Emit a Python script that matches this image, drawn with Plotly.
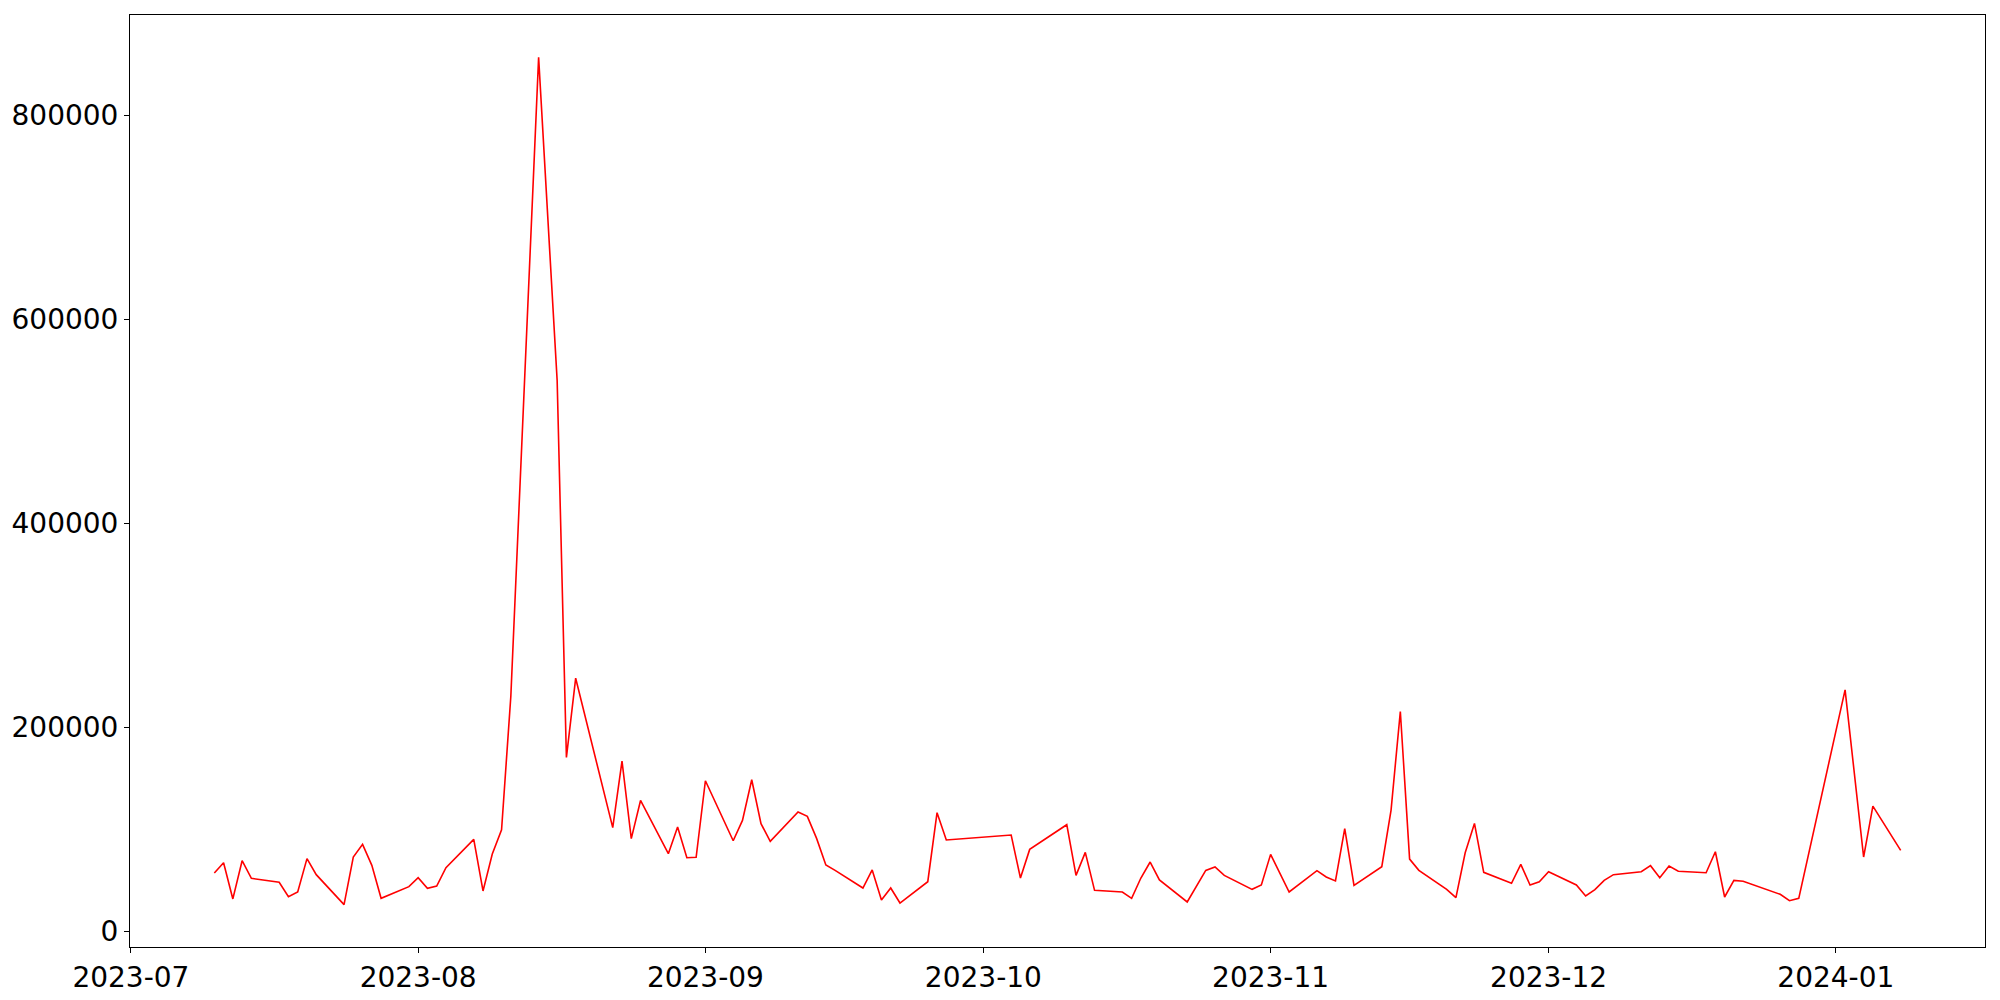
import pandas as pd
import plotly.graph_objects as go

dates = [
    "2023-07-10", "2023-07-11", "2023-07-12", "2023-07-13", "2023-07-14",
    "2023-07-17", "2023-07-18", "2023-07-19", "2023-07-20", "2023-07-21",
    "2023-07-24", "2023-07-25", "2023-07-26", "2023-07-27", "2023-07-28",
    "2023-07-31", "2023-08-01", "2023-08-02", "2023-08-03", "2023-08-04",
    "2023-08-07", "2023-08-08", "2023-08-09", "2023-08-10", "2023-08-11",
    "2023-08-14", "2023-08-16", "2023-08-17", "2023-08-18",
    "2023-08-22", "2023-08-23", "2023-08-24", "2023-08-25",
    "2023-08-28", "2023-08-29", "2023-08-30", "2023-08-31", "2023-09-01",
    "2023-09-04", "2023-09-05", "2023-09-06", "2023-09-07", "2023-09-08",
    "2023-09-11", "2023-09-12", "2023-09-13", "2023-09-14", "2023-09-15",
    "2023-09-18", "2023-09-19", "2023-09-20", "2023-09-21", "2023-09-22",
    "2023-09-25", "2023-09-26", "2023-09-27",
    "2023-10-04", "2023-10-05", "2023-10-06",
    "2023-10-10", "2023-10-11", "2023-10-12", "2023-10-13",
    "2023-10-16", "2023-10-17", "2023-10-18", "2023-10-19", "2023-10-20",
    "2023-10-23", "2023-10-25", "2023-10-26", "2023-10-27",
    "2023-10-30", "2023-10-31", "2023-11-01", "2023-11-03",
    "2023-11-06", "2023-11-07", "2023-11-08", "2023-11-09", "2023-11-10",
    "2023-11-13", "2023-11-14", "2023-11-15", "2023-11-16", "2023-11-17",
    "2023-11-20", "2023-11-21", "2023-11-22", "2023-11-23", "2023-11-24",
    "2023-11-27", "2023-11-28", "2023-11-29", "2023-11-30", "2023-12-01",
    "2023-12-04", "2023-12-05", "2023-12-06", "2023-12-07", "2023-12-08",
    "2023-12-11", "2023-12-12", "2023-12-13", "2023-12-14", "2023-12-15",
    "2023-12-18", "2023-12-19", "2023-12-20", "2023-12-21", "2023-12-22",
    "2023-12-26", "2023-12-27", "2023-12-28",
    "2024-01-02", "2024-01-04", "2024-01-05", "2024-01-08",
]

values = [
    57000, 67000, 31500, 69000, 51700,
    47800, 33700, 38300, 71000, 55300,
    25900, 72600, 85000, 64400, 32100,
    43500, 52300, 41900, 44100, 62100,
    89900, 39300, 75500, 99400, 230000,
    857000, 540000, 170300, 248000,
    101400, 166700, 90600, 128100,
    75900, 102000, 71900, 72300, 147400,
    88600, 108500, 148400, 105300, 88000,
    116700, 112500, 90900, 64800, 59500,
    42200, 59900, 30500, 42200, 27500,
    48400, 116100, 89300,
    94200, 52000, 80100,
    104300, 54600, 77200, 39900,
    38300, 32100, 52000, 67700, 50100,
    28500, 59500, 62800, 54600,
    40900, 45200, 75200, 38300,
    59200, 53000, 49100, 100400, 44800,
    63100, 118700, 215400, 70600, 59500,
    40900, 32700, 76800, 105600, 57600,
    46800, 65400, 45200, 48400, 58200,
    45200, 34400, 40600, 49700, 55300,
    58200, 64100, 52300, 63800, 58600,
    57200, 77800, 33400, 49700, 48800,
    36000, 29800, 32100,
    236600, 72600, 122600, 79100,
]

x_tick_vals = ["2023-07-01", "2023-08-01", "2023-09-01", "2023-10-01",
               "2023-11-01", "2023-12-01", "2024-01-01"]
x_tick_text = ["2023-07", "2023-08", "2023-09", "2023-10",
               "2023-11", "2023-12", "2024-01"]
y_tick_vals = [0, 200000, 400000, 600000, 800000]

# matplotlib-like 5% autoscale margins
d = pd.to_datetime(dates)
span = d.max() - d.min()
x_range = [(d.min() - span * 0.05).isoformat(), (d.max() + span * 0.05).isoformat()]
vmin, vmax = min(values), max(values)
vspan = vmax - vmin
y_range = [vmin - 0.05 * vspan, vmax + 0.05 * vspan]

fig = go.Figure()
fig.add_trace(go.Scatter(
    x=dates, y=values, mode="lines",
    line=dict(color="#ff0000", width=1.6),
    showlegend=False,
))

axis_common = dict(
    showline=True, mirror=True, linecolor="black", linewidth=1,
    ticks="outside", ticklen=5, tickwidth=1, tickcolor="black",
    showgrid=False, zeroline=False, automargin=False,
    tickfont=dict(family="DejaVu Sans", size=28, color="black"),
)

fig.update_xaxes(type="date", range=x_range, tickmode="array",
                 tickvals=x_tick_vals, ticktext=x_tick_text, **axis_common)
fig.update_yaxes(range=y_range, tickmode="array", tickvals=y_tick_vals,
                 ticktext=[str(v) for v in y_tick_vals], **axis_common)

fig.update_layout(
    template="none",
    width=2000, height=1000,
    margin=dict(l=130, r=15, t=15, b=53, pad=0),
    paper_bgcolor="white", plot_bgcolor="white",
    font=dict(family="DejaVu Sans", size=28, color="black"),
)

fig.write_html(
    "out.html",
    config={"displayModeBar": False},
    post_script="document.body.style.margin='0px';document.body.style.overflow='hidden';",
)
